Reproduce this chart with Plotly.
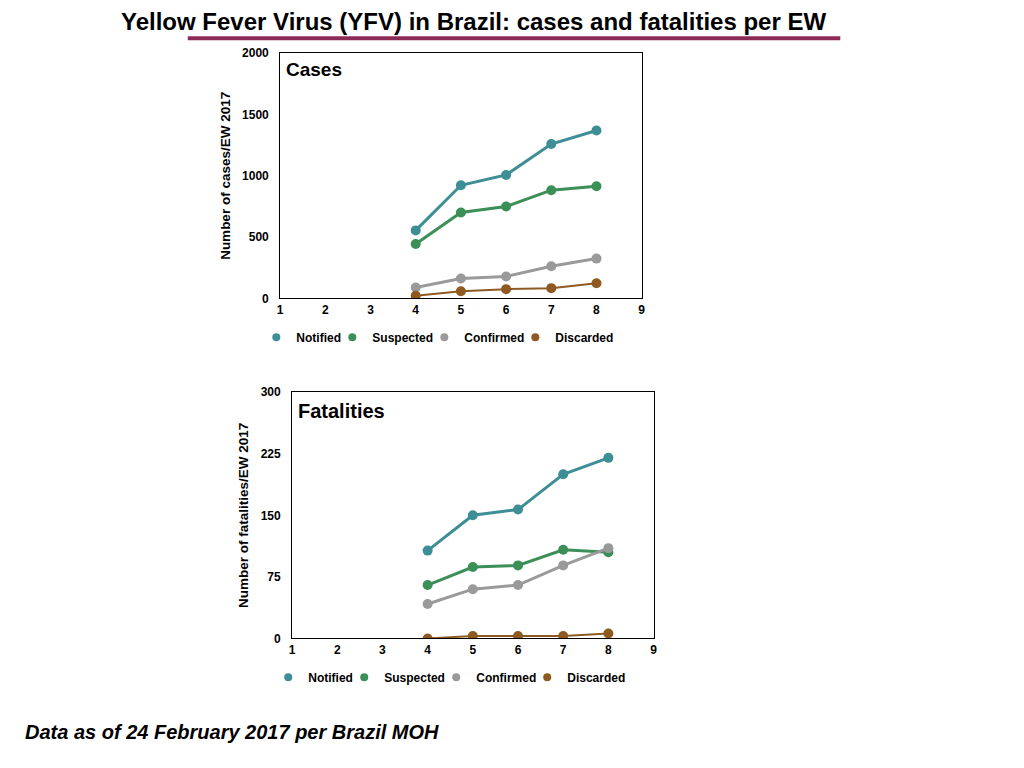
import plotly.graph_objects as go

# epidemiological weeks 2017
weeks = [4, 5, 6, 7, 8]
series_names = ['Notified', 'Suspected', 'Confirmed', 'Discarded']

# cases per EW
cases_notified = [555, 923, 1007, 1259, 1370]
cases_suspected = [444, 701, 750, 883, 915]
cases_confirmed = [89, 162, 179, 262, 325]
cases_discarded = [22, 59, 76, 84, 124]

# fatalities per EW
deaths_notified = [107, 150, 157, 200, 220]
deaths_suspected = [65, 87, 89, 108, 105]
deaths_confirmed = [42, 60, 65, 89, 110]
deaths_discarded = [0, 3, 3, 3, 6]

x_ticks = [1, 2, 3, 4, 5, 6, 7, 8, 9]
cases_ticks = [0, 500, 1000, 1500, 2000]
deaths_ticks = [0, 75, 150, 225, 300]

colors = ['#3d8e95', '#3b8f57', '#9a9a9a', '#8e5a22']
widths = [3, 3, 3, 2]
legend_widths = [31, 47, 46, 80]

FONT = 'Liberation Sans, Arial, sans-serif'
W, H = 1024, 768


# screen pixel -> paper fraction (page offsets measured from the render)
def px(x):
    return (x - 8) / W


def py(y):
    return 1 - ((y - 13.7) / 0.9847) / H


fig = go.Figure()

cases = [cases_notified, cases_suspected, cases_confirmed, cases_discarded]
deaths = [deaths_notified, deaths_suspected, deaths_confirmed, deaths_discarded]

for panel, data, xa, ya, lg in [(1, cases, 'x', 'y', 'legend'), (2, deaths, 'x2', 'y2', 'legend2')]:
    for name, vals, col, w in zip(series_names, data, colors, widths):
        fig.add_trace(go.Scatter(x=weeks, y=vals, name=name, mode='lines+markers',
                                 line=dict(color=col, width=w),
                                 marker=dict(color=col, size=10),
                                 xaxis=xa, yaxis=ya, showlegend=False))
    # small legend symbols like the original
    for name, col, lw in zip(series_names, colors, legend_widths):
        fig.add_trace(go.Scatter(x=[None], y=[None], name=name, mode='markers',
                                 marker=dict(color=col, size=8),
                                 xaxis=xa, yaxis=ya, legend=lg, legendwidth=lw))

axis_common = dict(showgrid=False, zeroline=False, showline=True, mirror=True,
                   linecolor='black', linewidth=1,
                   tickfont=dict(family=FONT, size=12, color='black', weight='bold'))
xaxis_ticks = dict(ticks='', **axis_common)
yaxis_ticks = dict(ticks='outside', ticklen=8, tickcolor='rgba(0,0,0,0)', **axis_common)

legend_common = dict(orientation='h', xanchor='left', yanchor='middle', itemwidth=30,
                     font=dict(family=FONT, size=12, color='black', weight='bold'),
                     bgcolor='rgba(0,0,0,0)')

fig.update_layout(
    width=W, height=H,
    margin=dict(l=0, r=0, t=0, b=0),
    paper_bgcolor='white', plot_bgcolor='white',
    font=dict(family=FONT, color='black'),
    xaxis=dict(domain=[px(279), px(643)], anchor='y', range=[1, 9],
               tickvals=x_ticks, **xaxis_ticks),
    yaxis=dict(domain=[py(298), py(52)], anchor='x', range=[0, 2000],
               tickvals=cases_ticks,
               title=dict(text='Number of cases/EW 2017', standoff=8,
                          font=dict(size=13.5, weight='bold')),
               **yaxis_ticks),
    xaxis2=dict(domain=[px(291), px(655)], anchor='y2', range=[1, 9],
                tickvals=x_ticks, **xaxis_ticks),
    yaxis2=dict(domain=[py(639), py(392)], anchor='x2', range=[0, 300],
                tickvals=deaths_ticks,
                title=dict(text='Number of fatalities/EW 2017', standoff=8,
                           font=dict(size=13.5, weight='bold')),
                **yaxis_ticks),
    legend=dict(x=px(255), y=py(337), **legend_common),
    legend2=dict(x=px(267), y=py(678), **legend_common),
    showlegend=True,
)

# title and underline
fig.add_annotation(text='<b>Yellow Fever Virus (YFV) in Brazil: cases and fatalities per EW</b>',
                   x=px(474), y=py(20), xref='paper', yref='paper', showarrow=False,
                   font=dict(family=FONT, size=24, color='black'),
                   xanchor='center', yanchor='middle')
fig.add_shape(type='line', xref='paper', yref='paper',
              x0=px(186), x1=px(843), y0=py(37), y1=py(37),
              line=dict(color='#8b2a57', width=4))

# panel labels
fig.add_annotation(text='<b>Cases</b>', x=0.012, y=0.935, xref='x domain', yref='y domain',
                   showarrow=False, xanchor='left', yanchor='middle',
                   font=dict(family=FONT, size=19, color='black'))
fig.add_annotation(text='<b>Fatalities</b>', x=0.012, y=0.923, xref='x2 domain', yref='y2 domain',
                   showarrow=False, xanchor='left', yanchor='middle',
                   font=dict(family=FONT, size=20, color='black'))

# footnote
fig.add_annotation(text='<b><i>Data as of 24 February 2017 per Brazil MOH</i></b>',
                   x=px(20), y=py(733), xref='paper', yref='paper', showarrow=False,
                   xanchor='left', yanchor='middle',
                   font=dict(family=FONT, size=20, color='black'))

fig.write_html('out.html')
